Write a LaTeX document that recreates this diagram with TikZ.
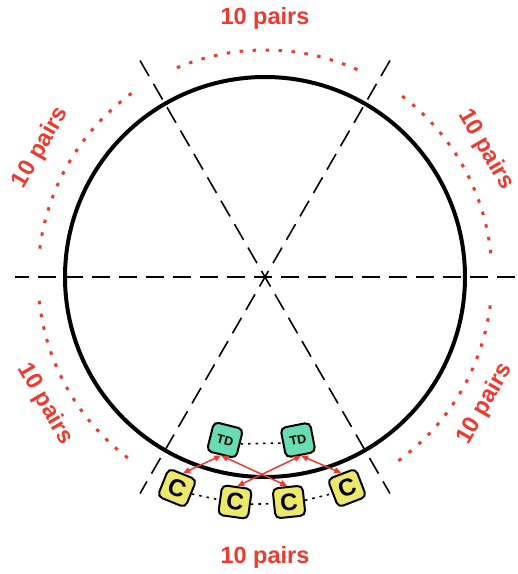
\documentclass[tikz,border=0pt]{standalone}
\usepackage{fontspec}
\setmainfont{Liberation Sans}
\usetikzlibrary{arrows.meta,positioning}
\definecolor{pairred}{RGB}{238,58,46}
\definecolor{tdgreen}{RGB}{104,220,178}
\definecolor{cyellow}{RGB}{236,232,108}
\tikzset{
  >={Triangle[length=7pt,width=6pt]},
  tok/.style={draw=black,fill=#1,line width=2pt,rounded corners=5pt,
    minimum size=30pt,inner sep=0pt},
  td/.style={tok=tdgreen,font=\fontsize{12.5}{13}\selectfont\bfseries},
  cbox/.style={tok=cyellow,font=\fontsize{24}{26}\selectfont\bfseries},
  ring/.style={line width=4pt},
  axis/.style={line width=1.6pt,dash pattern=on 18pt off 9pt},
  pairarc/.style={pairred,line width=3pt,dash pattern=on 3.5pt off 9.5pt},
  pairlabel/.style={text=pairred,font=\fontsize{23.5}{28}\selectfont\bfseries},
  link/.style={<->,pairred,line width=1.5pt},
  chain/.style={line width=1.6pt,dash pattern=on 2.5pt off 5pt},
}

\begin{document}
\begin{tikzpicture}[x=1pt,y=1pt]
  \useasboundingbox (-265,-297) rectangle (253,277);
  % ring and sector lines
  \draw[ring] (0,0) circle (200);
  \foreach \a in {0,60,120} \draw[axis] (\a:250) -- (\a+180:250);
  % dotted arcs and their labels
  \foreach \a in {6,66,126,186,306}
    \draw[pairarc] (\a:227) arc[start angle=\a,end angle=\a+48,radius=227];
  \foreach \a/\r/\rot in {90/259/0,150/259/60,30/255/-60,210/254/-60,330/254/60,270/280/0}
    \node[pairlabel,rotate=\rot] (lbl\a) at (\a:\r) {10 pairs};
  % tokens
  \node[td,rotate=-14] (tdl) at (-40,-163) {TD};
  \node[td,rotate=11] (tdr) at (33,-163) {TD};
  \node[cbox,rotate=-22] (c1) at (-88,-211) {C};
  \node[cbox,rotate=-8] (c2) at (-30,-225) {C};
  \node[cbox,rotate=6] (c3) at (24,-225) {C};
  \node[cbox,rotate=21] (c4) at (82,-211) {C};
  \draw[chain] (tdl.east) -- (tdr.west);
  \draw[chain] (c1.east) -- (c2.west) (c2.east) -- (c3.west) (c3.east) -- (c4.west);
  \draw[link] (tdl.south) -- (c1.north);
  \draw[link] (tdl.south) -- (c3.north);
  \draw[link] (tdr.south) -- (c2.north);
  \draw[link] (tdr.south) -- (c4.north);
\end{tikzpicture}
\end{document}
